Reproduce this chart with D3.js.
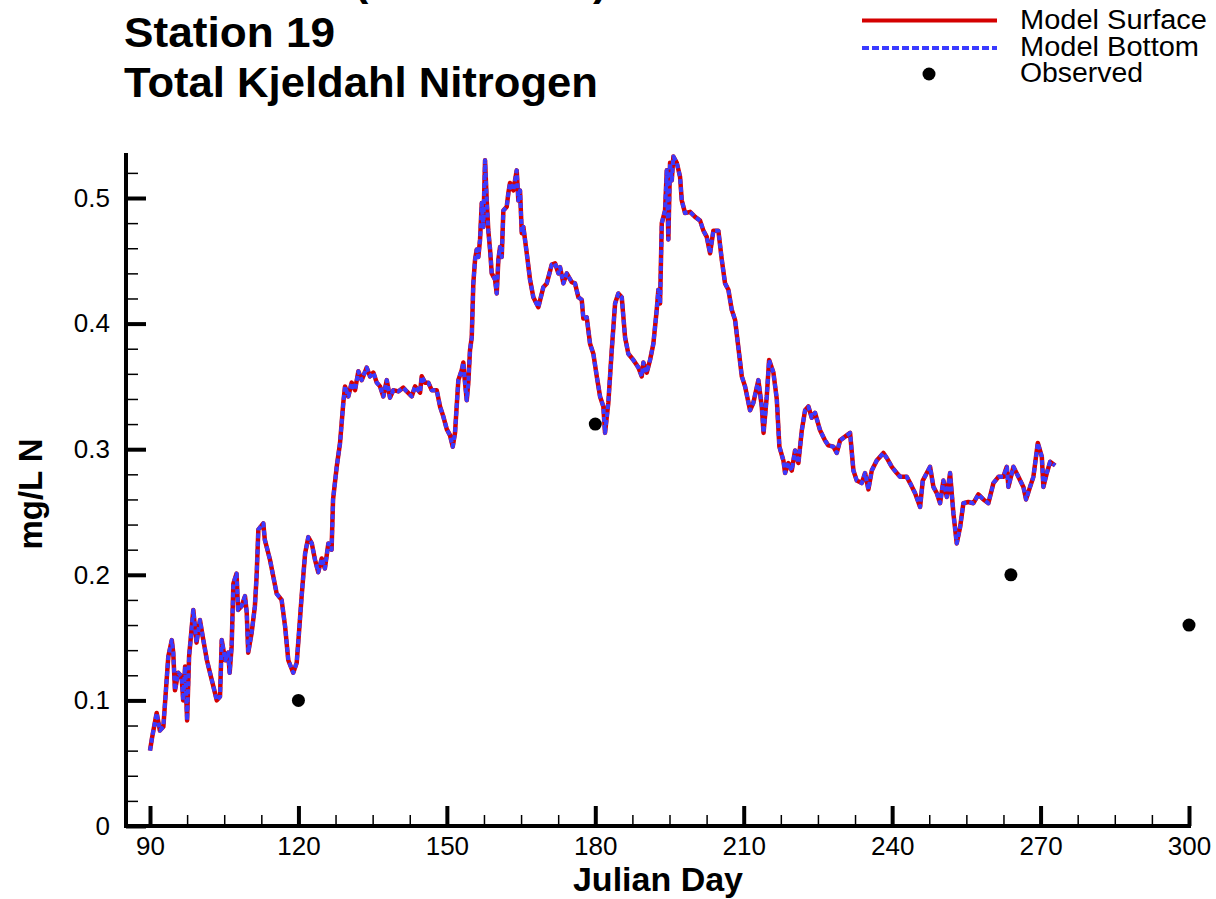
<!DOCTYPE html>
<html>
<head>
<meta charset="utf-8">
<script src="https://cdn.jsdelivr.net/npm/d3@7"></script>
<style>
  html, body { margin: 0; padding: 0; background: #fff; }
  svg { display: block; }
  text { font-family: "Liberation Sans", Arial, Helvetica, sans-serif; fill: #000; }
</style>
</head>
<body>
<svg id="chart" width="1216" height="899"></svg>
<script>
// ---- Data ----
const modelDays = [90.0,90.4,91.35,92.0,92.7,93.7,94.4,94.7,95.05,95.7,96.4,96.7,97.1,97.5,97.9,98.75,99.4,100.1,100.65,101.5,102.5,103.5,104.15,104.5,105.2,105.8,106.1,106.5,106.85,107.5,107.8,108.5,109.2,109.55,109.85,110.55,111.2,111.55,111.9,112.9,113.2,114.25,115.6,116.6,117.3,117.95,118.95,119.65,120.0,120.65,121.35,122.0,122.7,123.35,124.0,124.7,125.35,126.05,126.7,127.0,127.74,128.41,129.07,129.42,130.08,130.77,131.44,132.11,132.79,133.8,134.47,135.14,135.83,136.49,137.16,137.85,138.51,139.18,140.19,141.2,141.89,142.9,143.57,144.58,144.92,145.59,146.26,146.94,147.95,148.62,149.29,149.98,150.64,151.19,151.65,152.32,153.01,153.33,153.67,154.02,154.34,154.68,155.03,155.35,155.7,156.04,156.36,156.71,157.05,157.37,157.72,158.06,158.38,158.73,159.07,159.74,160.08,160.41,160.75,161.09,161.42,162.1,162.43,162.77,163.44,164.12,164.45,164.79,165.14,165.46,166.15,166.81,167.48,168.49,169.5,170.19,171.2,171.87,172.54,172.88,173.55,174.23,175.24,175.91,176.58,177.26,177.59,178.27,178.94,179.61,180.3,180.96,181.63,181.97,182.64,183.33,184.0,184.66,185.35,186.02,186.68,187.7,188.71,189.39,189.72,190.4,191.07,191.74,192.42,192.75,193.09,193.44,194.1,194.45,194.77,195.11,195.46,195.78,196.47,197.13,197.48,198.15,199.16,200.17,201.18,201.85,202.53,203.2,203.87,204.88,205.56,206.23,206.9,207.58,208.25,208.92,209.61,210.27,211.28,211.95,212.96,213.65,214.01,214.66,215.13,216.0,216.68,217.21,218.02,218.36,219.03,219.71,220.38,221.05,221.74,222.4,223.07,223.76,224.42,225.43,226.44,227.11,228.12,228.81,229.48,230.49,231.5,232.17,232.85,233.86,234.53,235.2,235.88,236.89,238.23,238.91,239.93,240.94,241.61,242.96,243.63,244.64,245.65,246.19,247.0,247.67,248.34,249.02,249.69,250.36,251.05,251.71,252.38,253.06,253.74,254.4,255.41,256.42,257.43,258.44,259.45,260.47,261.48,262.49,263.17,263.5,264.51,265.52,266.53,267.07,267.88,268.55,269.44,270.25,270.57,271.26,271.93,272.94];

const modelSurface = [0.060,0.070,0.090,0.076,0.079,0.135,0.148,0.138,0.108,0.122,0.119,0.100,0.127,0.084,0.135,0.172,0.146,0.164,0.151,0.132,0.116,0.100,0.103,0.148,0.132,0.138,0.122,0.143,0.193,0.201,0.172,0.175,0.183,0.170,0.138,0.154,0.175,0.199,0.236,0.241,0.228,0.212,0.185,0.180,0.159,0.132,0.122,0.130,0.148,0.183,0.217,0.230,0.225,0.212,0.202,0.213,0.205,0.225,0.220,0.260,0.286,0.305,0.337,0.350,0.342,0.353,0.347,0.362,0.355,0.365,0.358,0.361,0.353,0.350,0.342,0.355,0.341,0.347,0.346,0.349,0.346,0.342,0.350,0.345,0.358,0.353,0.353,0.347,0.347,0.334,0.326,0.316,0.311,0.302,0.313,0.355,0.363,0.369,0.353,0.339,0.353,0.379,0.389,0.432,0.451,0.459,0.453,0.467,0.496,0.477,0.530,0.498,0.474,0.459,0.440,0.435,0.424,0.451,0.461,0.453,0.490,0.493,0.504,0.512,0.506,0.522,0.498,0.506,0.472,0.477,0.456,0.435,0.421,0.413,0.429,0.432,0.447,0.448,0.440,0.445,0.432,0.440,0.433,0.432,0.421,0.419,0.404,0.405,0.384,0.376,0.358,0.342,0.334,0.313,0.337,0.379,0.416,0.424,0.421,0.389,0.376,0.371,0.365,0.358,0.369,0.361,0.371,0.384,0.411,0.427,0.416,0.480,0.490,0.522,0.467,0.528,0.514,0.533,0.528,0.517,0.498,0.488,0.489,0.485,0.482,0.474,0.469,0.456,0.474,0.474,0.451,0.432,0.427,0.411,0.403,0.381,0.358,0.350,0.331,0.337,0.355,0.334,0.313,0.342,0.371,0.361,0.340,0.302,0.291,0.281,0.289,0.283,0.299,0.289,0.315,0.331,0.334,0.325,0.329,0.315,0.307,0.303,0.302,0.297,0.307,0.310,0.313,0.283,0.275,0.273,0.281,0.268,0.283,0.291,0.297,0.293,0.286,0.281,0.278,0.278,0.273,0.265,0.254,0.275,0.281,0.286,0.270,0.265,0.257,0.275,0.262,0.281,0.249,0.225,0.238,0.257,0.258,0.257,0.264,0.260,0.257,0.273,0.278,0.278,0.286,0.270,0.286,0.278,0.270,0.260,0.270,0.278,0.305,0.294,0.270,0.281,0.290,0.287];

// Model Bottom overlaps the surface series everywhere in the picture
const modelBottom = modelSurface;

const obsDays = [120, 180, 264, 300];
const obsValues = [0.10, 0.32, 0.20, 0.16];

const xMajorTicks = [90, 120, 150, 180, 210, 240, 270, 300];
const xMinorTicks = [97.5,105,112.5,127.5,135,142.5,157.5,165,172.5,187.5,195,202.5,217.5,225,232.5,247.5,255,262.5,277.5,285,292.5];
const yMajorTicks = [0, 0.1, 0.2, 0.3, 0.4, 0.5];
const yMinorTicks = [0.02,0.04,0.06,0.08,0.12,0.14,0.16,0.18,0.22,0.24,0.26,0.28,0.32,0.34,0.36,0.38,0.42,0.44,0.46,0.48,0.52];

const titleLines = ["Station 19", "Total Kjeldahl Nitrogen"];
const legendLabels = ["Model Surface", "Model Bottom", "Observed"];

// ---- Drawing ----
const svg = d3.select("#chart");
svg.append("rect").attr("width", 1216).attr("height", 899).attr("fill", "#fff");

const x = d3.scaleLinear().domain([90, 300]).range([150, 1189]);
const y = d3.scaleLinear().domain([0, 0.5]).range([826, 198]);
const axisX0 = 126;   // y-axis position
const axisY0 = 826;   // x-axis position

// clipped partial first title line (only bottoms of parentheses visible)
svg.append("text").attr("x", 354).attr("y", -5).attr("font-size", 43).attr("font-weight", "bold").text("(");
svg.append("text").attr("x", 593).attr("y", -5).attr("font-size", 43).attr("font-weight", "bold").text(")");

// Title
svg.append("text").attr("x", 124).attr("y", 47).attr("font-size", 43).attr("font-weight", "bold")
  .attr("textLength", 211).attr("lengthAdjust", "spacingAndGlyphs").text(titleLines[0]);
svg.append("text").attr("x", 124).attr("y", 97).attr("font-size", 43).attr("font-weight", "bold")
  .attr("textLength", 474).attr("lengthAdjust", "spacingAndGlyphs").text(titleLines[1]);

// Lines
const line = d3.line().x((d, i) => x(modelDays[i])).y(d => y(d));
const plot = svg.append("g");
plot.append("path").datum(modelSurface).attr("d", line)
  .attr("fill", "none").attr("stroke", "#d40000").attr("stroke-width", 4.5).attr("stroke-linejoin", "round");
plot.append("path").datum(modelBottom).attr("d", line)
  .attr("fill", "none").attr("stroke", "#3a3aff").attr("stroke-width", 4)
  .attr("stroke-dasharray", "5,3").attr("stroke-linejoin", "round");

// Observed
plot.selectAll("circle.obs").data(obsDays).enter().append("circle")
  .attr("class", "obs").attr("cx", d => x(d)).attr("cy", (d, i) => y(obsValues[i])).attr("r", 6.5).attr("fill", "#000");

// Axes
const xAxisMajor = d3.axisBottom(x).tickValues(xMajorTicks).tickSize(-20).tickSizeOuter(0).tickPadding(11).tickFormat(d3.format("d"));
const gx = svg.append("g").attr("transform", `translate(0,${axisY0})`).call(xAxisMajor);
gx.select(".domain").remove();
gx.selectAll(".tick line").attr("stroke", "#000").attr("stroke-width", 4);
gx.selectAll(".tick text").attr("font-size", 26).attr("font-family", "Liberation Sans, Arial, sans-serif").attr("fill", "#000");

const xAxisMinor = d3.axisBottom(x).tickValues(xMinorTicks).tickSize(-11).tickSizeOuter(0).tickFormat("");
const gxm = svg.append("g").attr("transform", `translate(0,${axisY0})`).call(xAxisMinor);
gxm.select(".domain").remove();
gxm.selectAll(".tick line").attr("stroke", "#000").attr("stroke-width", 1.5);

const yAxisMajor = d3.axisLeft(y).tickValues(yMajorTicks).tickSize(-20).tickSizeOuter(0).tickPadding(16)
  .tickFormat(d => d === 0 ? "0" : d3.format(".1f")(d));
const gy = svg.append("g").attr("transform", `translate(${axisX0},0)`).call(yAxisMajor);
gy.select(".domain").remove();
gy.selectAll(".tick line").attr("stroke", "#000").attr("stroke-width", 4);
gy.selectAll(".tick text").attr("font-size", 26).attr("font-family", "Liberation Sans, Arial, sans-serif").attr("fill", "#000");

const yAxisMinor = d3.axisLeft(y).tickValues(yMinorTicks).tickSize(-12).tickSizeOuter(0).tickFormat("");
const gym = svg.append("g").attr("transform", `translate(${axisX0},0)`).call(yAxisMinor);
gym.select(".domain").remove();
gym.selectAll(".tick line").attr("stroke", "#000").attr("stroke-width", 1.5);

// Axis lines
svg.append("line").attr("x1", axisX0).attr("x2", axisX0).attr("y1", 153).attr("y2", axisY0 + 2)
  .attr("stroke", "#000").attr("stroke-width", 4);
svg.append("line").attr("x1", axisX0 - 2).attr("x2", x(300) + 2).attr("y1", axisY0).attr("y2", axisY0)
  .attr("stroke", "#000").attr("stroke-width", 4);

// Axis titles
svg.append("text").attr("x", 658).attr("y", 891).attr("text-anchor", "middle")
  .attr("font-size", 34).attr("font-weight", "bold").text("Julian Day");
svg.append("text").attr("transform", "translate(42,494) rotate(-90)").attr("text-anchor", "middle")
  .attr("font-size", 33).attr("font-weight", "bold").text("mg/L N");

// Legend
const lg = svg.append("g");
lg.append("line").attr("x1", 862).attr("x2", 997).attr("y1", 20.5).attr("y2", 20.5)
  .attr("stroke", "#d40000").attr("stroke-width", 4);
lg.append("line").attr("x1", 862).attr("x2", 997).attr("y1", 48).attr("y2", 48)
  .attr("stroke", "#3a3aff").attr("stroke-width", 4).attr("stroke-dasharray", "7,3");
lg.append("circle").attr("cx", 929).attr("cy", 74).attr("r", 6.5).attr("fill", "#000");
const legY = [29, 55.5, 81.5];
const legW = [187, 179, 123];
legendLabels.forEach((t, i) => {
  lg.append("text").attr("x", 1020).attr("y", legY[i]).attr("font-size", 27)
    .attr("textLength", legW[i]).attr("lengthAdjust", "spacingAndGlyphs").text(t);
});
</script>
</body>
</html>
